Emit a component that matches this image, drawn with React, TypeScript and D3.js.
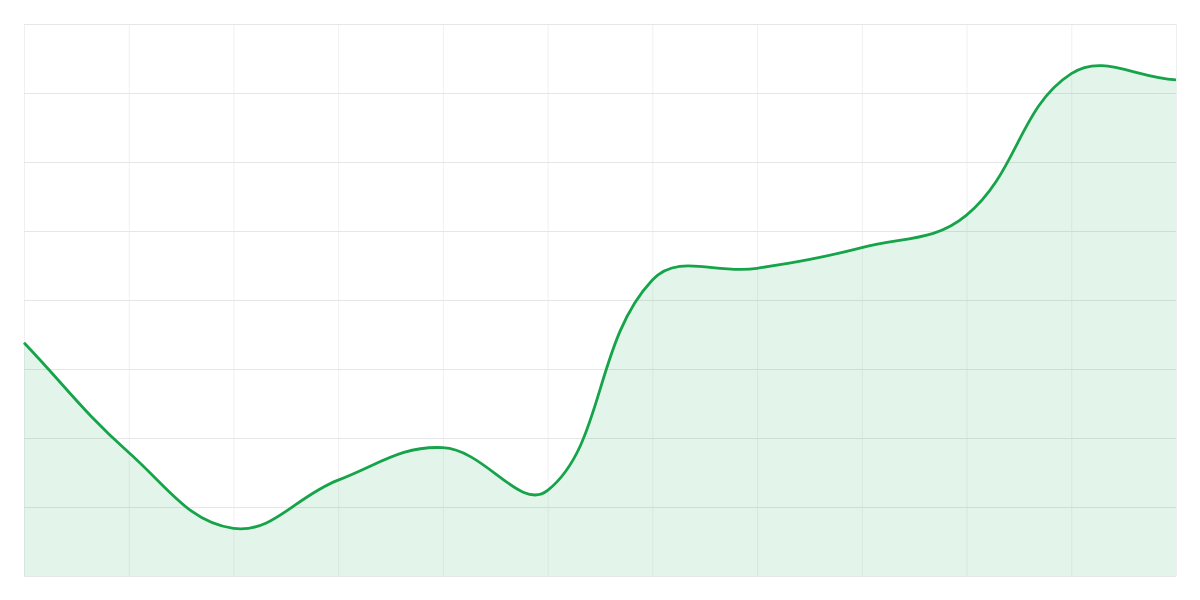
import React, { useEffect, useRef } from 'react';
import * as d3 from 'd3';

// x positions are just indexes, the chart has no labels
const points = [0, 1, 2, 3, 4, 5, 6, 7, 8, 9, 10, 11];
const values = [33.8, 17.9, 6.9, 13.9, 18.6, 12.4, 42.9, 44.6, 47.6, 52.3, 72.8, 71.9];
const yTicks = [0, 10, 20, 30, 40, 50, 60, 70, 80];

// bezier spline with distance weighted handles (tension 0.4)
class TensionCurve {
  _context: any;
  _line: number = NaN;
  _x: number[] = [];
  _y: number[] = [];
  constructor(context: any) {
    this._context = context;
  }
  areaStart() { this._line = 0; }
  areaEnd() { this._line = NaN; }
  lineStart() { this._x = []; this._y = []; }
  point(x: number, y: number) { this._x.push(+x); this._y.push(+y); }
  lineEnd() {
    const xs = this._x, ys = this._y, n = xs.length, t = 0.4;
    if (n) {
      if (this._line) this._context.lineTo(xs[0], ys[0]);
      else this._context.moveTo(xs[0], ys[0]);
      const cp: { px: number; py: number; nx: number; ny: number }[] = [];
      for (let i = 0; i < n; i++) {
        const p = Math.max(i - 1, 0), q = Math.min(i + 1, n - 1);
        const d01 = Math.hypot(xs[i] - xs[p], ys[i] - ys[p]);
        const d12 = Math.hypot(xs[q] - xs[i], ys[q] - ys[i]);
        let s01 = d01 / (d01 + d12), s12 = d12 / (d01 + d12);
        if (isNaN(s01)) s01 = 0;
        if (isNaN(s12)) s12 = 0;
        const dx = xs[q] - xs[p], dy = ys[q] - ys[p];
        cp.push({
          px: xs[i] - t * s01 * dx, py: ys[i] - t * s01 * dy,
          nx: xs[i] + t * s12 * dx, ny: ys[i] + t * s12 * dy,
        });
      }
      for (let i = 1; i < n; i++) {
        this._context.bezierCurveTo(cp[i - 1].nx, cp[i - 1].ny, cp[i].px, cp[i].py, xs[i], ys[i]);
      }
    }
    if (this._line || (this._line !== 0 && n === 1)) this._context.closePath();
    this._line = 1 - this._line;
  }
}
const tensionCurve = (context: any) => new TensionCurve(context);

const App: React.FC = () => {
  const chartRef = useRef<SVGSVGElement | null>(null);

  useEffect(() => {
    const margin = { top: 24, right: 24, bottom: 24, left: 24 };
    const width = 1200 - margin.left - margin.right;
    const height = 600 - margin.top - margin.bottom;

    d3.select(chartRef.current).selectAll('*').remove();

    const svg = d3.select(chartRef.current)
      .attr('width', width + margin.left + margin.right)
      .attr('height', height + margin.top + margin.bottom)
      .append('g')
      .attr('transform', `translate(${margin.left},${margin.top})`);

    const x = d3.scaleLinear()
      .domain([0, points.length - 1])
      .range([0, width]);

    const y = d3.scaleLinear()
      .domain([0, 80])
      .range([height, 0]);

    // vertical grid
    svg.append('g')
      .selectAll('line')
      .data(points)
      .enter().append('line')
      .attr('x1', d => x(d) + 0.5)
      .attr('x2', d => x(d) + 0.5)
      .attr('y1', 0)
      .attr('y2', height)
      .attr('stroke', '#f0f0f2')
      .attr('stroke-width', 1);

    // horizontal grid
    svg.append('g')
      .selectAll('line')
      .data(yTicks)
      .enter().append('line')
      .attr('x1', 0)
      .attr('x2', width)
      .attr('y1', d => y(d) + 0.5)
      .attr('y2', d => y(d) + 0.5)
      .attr('stroke', '#e6e6e8')
      .attr('stroke-width', 1);

    const area = d3.area<number>()
      .x((_, i) => x(points[i]))
      .y0(height)
      .y1(d => y(d))
      .curve(tensionCurve as any);

    const line = d3.line<number>()
      .x((_, i) => x(points[i]))
      .y(d => y(d))
      .curve(tensionCurve as any);

    svg.append('path')
      .datum(values)
      .attr('d', area)
      .attr('fill', 'rgba(25, 170, 80, 0.12)');

    svg.append('path')
      .datum(values)
      .attr('d', line)
      .attr('fill', 'none')
      .attr('stroke', '#16a34a')
      .attr('stroke-width', 2.8);
  }, []);

  return (
    <div style={{ position: 'fixed', left: 0, top: 0 }}>
      <svg ref={chartRef} style={{ display: 'block' }}></svg>
    </div>
  );
};

export default App;
